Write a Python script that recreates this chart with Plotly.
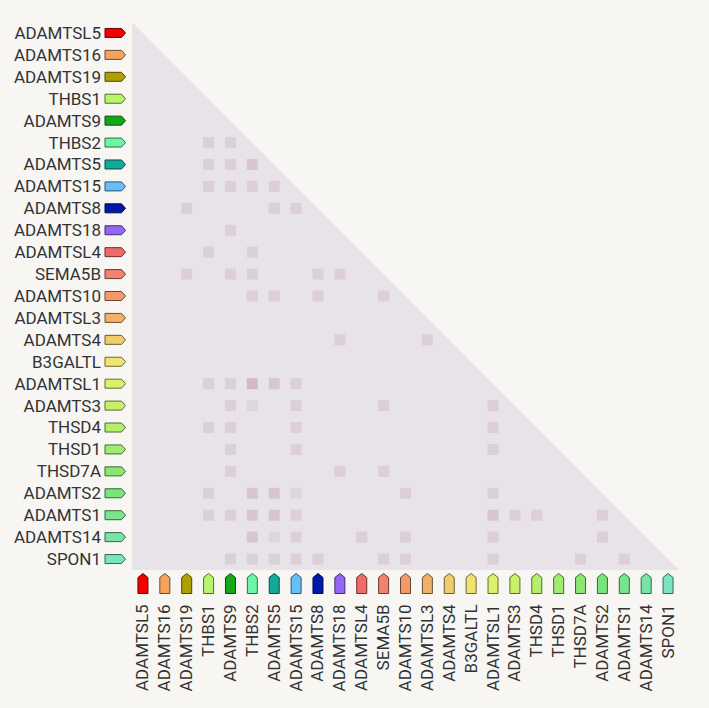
import plotly.graph_objects as go

# genes in matrix order (rows top->bottom, columns left->right)
genes = ["ADAMTSL5", "ADAMTS16", "ADAMTS19", "THBS1", "ADAMTS9", "THBS2",
         "ADAMTS5", "ADAMTS15", "ADAMTS8", "ADAMTS18", "ADAMTSL4", "SEMA5B",
         "ADAMTS10", "ADAMTSL3", "ADAMTS4", "B3GALTL", "ADAMTSL1", "ADAMTS3",
         "THSD4", "THSD1", "THSD7A", "ADAMTS2", "ADAMTS1", "ADAMTS14", "SPON1"]

gene_colors = ["#f00000", "#f5a35e", "#aea000", "#b8f46c", "#12a818", "#6cf5a4",
               "#14a898", "#66bff5", "#0018a8", "#9466f5", "#f06a6a", "#f2826e",
               "#f29a6a", "#f0b068", "#f0cc6a", "#f0e46e", "#dcf06a", "#c8f06a",
               "#b4ee6c", "#a0ec70", "#8ce672", "#78e47a", "#78e48e", "#78e4a4",
               "#78e4c0"]

# non-empty cells of the lower triangle: row index, column index, strength
cell_rows = [5, 5,
             6, 6, 6,
             7, 7, 7, 7,
             8, 8, 8,
             9,
             10, 10,
             11, 11, 11, 11, 11,
             12, 12, 12, 12,
             14, 14,
             16, 16, 16, 16, 16,
             17, 17, 17, 17, 17,
             18, 18, 18, 18,
             19, 19, 19,
             20, 20, 20,
             21, 21, 21, 21, 21, 21,
             22, 22, 22, 22, 22, 22, 22, 22, 22,
             23, 23, 23, 23, 23, 23, 23,
             24, 24, 24, 24, 24, 24, 24, 24, 24, 24]
cell_cols = [3, 4,
             3, 4, 5,
             3, 4, 5, 6,
             2, 6, 7,
             4,
             3, 5,
             2, 4, 5, 8, 9,
             5, 6, 8, 11,
             9, 13,
             3, 4, 5, 6, 7,
             4, 5, 7, 11, 16,
             3, 4, 7, 16,
             4, 7, 16,
             4, 9, 11,
             3, 5, 6, 7, 12, 16,
             3, 4, 5, 6, 7, 16, 17, 18, 21,
             5, 6, 7, 10, 12, 16, 21,
             4, 5, 6, 7, 8, 11, 12, 16, 20, 22]
cell_vals = [1, 1,
             1, 1, 2,
             1, 1, 1, 1,
             1, 1, 1,
             1,
             1, 1,
             1, 1, 1, 1, 1,
             1, 1, 1, 1,
             1, 1,
             1, 1, 3, 2, 1,
             1, 0.5, 1, 1, 1,
             1, 1, 1, 1,
             1, 1, 1,
             1, 1, 1,
             1, 2, 2, 0.5, 1, 1,
             1, 1, 2, 2, 1, 2, 1, 1, 1,
             2, 0.5, 1, 1, 1, 1, 1,
             1, 1, 1, 1, 1, 1, 1, 1, 1, 1]

n = len(genes)
bg = "#f7f6f3"
tri_color = "#e8e3e8"


def darker(hex_color, f=0.45):
    r, g, b = (int(hex_color[i:i + 2], 16) for i in (1, 3, 5))
    return "rgb(%d,%d,%d)" % (r * f, g * f, b * f)


fig = go.Figure()

fig.add_trace(go.Scatter(
    x=cell_cols, y=cell_rows, mode="markers",
    marker=dict(symbol="square", size=11, line=dict(width=0),
                color=cell_vals, cmin=0, cmax=3,
                colorscale=[[0, "#e4dce2"], [0.33, "#dccfd7"],
                            [0.67, "#d7c6cf"], [1, "#d0bac6"]]),
    hoverinfo="skip", showlegend=False,
))

shapes = [dict(type="path", xref="x", yref="y", layer="below",
               path="M %s,%s L %s,%s L %s,%s Z" % (-0.5, -0.5, -0.5, n - 0.5, n - 0.5, n - 0.5),
               fillcolor=tri_color, line=dict(width=0))]

for i, c in enumerate(gene_colors):
    # arrow pointing right, left of each row
    shapes.append(dict(type="path", xref="paper", yref="y",
                       xsizemode="pixel", ysizemode="pixel", xanchor=0, yanchor=i,
                       path="M -27,-4.5 L -10.5,-4.5 L -6.5,0 L -10.5,4.5 L -27,4.5 Z",
                       fillcolor=c, line=dict(color=darker(c), width=1)))
    # arrow pointing up, below each column
    shapes.append(dict(type="path", xref="x", yref="paper",
                       xsizemode="pixel", ysizemode="pixel", xanchor=i, yanchor=0,
                       path="M -5,-23.5 L 5,-23.5 L 5,-7.5 L 0,-3.5 L -5,-7.5 Z",
                       fillcolor=c, line=dict(color=darker(c), width=1)))

fig.update_layout(
    width=709, height=708,
    margin=dict(l=132, r=30, t=22, b=138),
    paper_bgcolor=bg, plot_bgcolor=bg,
    font=dict(family="Roboto", size=17, color="#333333"),
    shapes=shapes,
)
fig.update_xaxes(range=[-0.5, n - 0.5], tickvals=list(range(n)), ticktext=genes,
                 tickangle=-90, showgrid=False, zeroline=False, showline=False,
                 ticks="", ticklabelstandoff=30, fixedrange=True)
fig.update_yaxes(range=[n - 0.5, -0.5], tickvals=list(range(n)), ticktext=genes,
                 showgrid=False, zeroline=False, showline=False,
                 ticks="", ticklabelstandoff=30, fixedrange=True)

fig.write_html("out.html", config={"displayModeBar": False},
               post_script="document.body.style.margin='0';"
                           "document.body.style.overflow='hidden';"
                           "document.body.style.background='%s';" % bg)
